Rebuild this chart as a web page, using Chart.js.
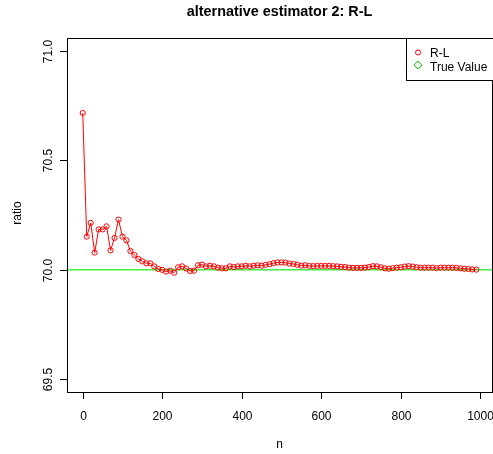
<!DOCTYPE html>
<html>
<head>
<meta charset="utf-8">
<script src="https://cdn.jsdelivr.net/npm/chart.js@4.4.0/dist/chart.umd.min.js"></script>
<style>
  html, body { margin: 0; padding: 0; background: #fff; overflow: hidden; }
  #wrap { width: 493px; height: 454px; overflow: hidden; position: relative; }
  #wrap canvas { position: absolute; left: 0; top: 0; }
</style>
</head>
<body>
<div id="wrap"><canvas id="chart" width="497" height="454"></canvas></div>
<script>
// n = 0, 10, ..., 990
const nValues = [
  0, 10, 20, 30, 40, 50, 60, 70, 80, 90,
  100, 110, 120, 130, 140, 150, 160, 170, 180, 190,
  200, 210, 220, 230, 240, 250, 260, 270, 280, 290,
  300, 310, 320, 330, 340, 350, 360, 370, 380, 390,
  400, 410, 420, 430, 440, 450, 460, 470, 480, 490,
  500, 510, 520, 530, 540, 550, 560, 570, 580, 590,
  600, 610, 620, 630, 640, 650, 660, 670, 680, 690,
  700, 710, 720, 730, 740, 750, 760, 770, 780, 790,
  800, 810, 820, 830, 840, 850, 860, 870, 880, 890,
  900, 910, 920, 930, 940, 950, 960, 970, 980, 990
];
const ratioRL = [
  70.717, 70.151, 70.214, 70.078, 70.184, 70.184, 70.198, 70.088, 70.145, 70.229,
  70.151, 70.134, 70.085, 70.067, 70.049, 70.038, 70.029, 70.029, 70.015, 70.003,
  69.999, 69.991, 69.995, 69.986, 70.011, 70.015, 70.005, 69.994, 69.995, 70.020,
  70.023, 70.015, 70.018, 70.015, 70.009, 70.006, 70.006, 70.015, 70.012, 70.015,
  70.015, 70.018, 70.015, 70.018, 70.020, 70.018, 70.022, 70.025, 70.030, 70.033,
  70.033, 70.032, 70.028, 70.026, 70.022, 70.018, 70.020, 70.017, 70.016, 70.017,
  70.017, 70.017, 70.017, 70.016, 70.015, 70.013, 70.012, 70.009, 70.008, 70.008,
  70.008, 70.009, 70.012, 70.016, 70.015, 70.011, 70.006, 70.004, 70.007, 70.009,
  70.011, 70.014, 70.016, 70.014, 70.011, 70.009, 70.009, 70.009, 70.009, 70.007,
  70.009, 70.009, 70.009, 70.009, 70.008, 70.006, 70.004, 70.003, 70.001, 70.000
];
const trueValue = 70;
const xTicks = [0, 200, 400, 600, 800, 1000];
const yTicks = [69.5, 70.0, 70.5, 71.0];
const seriesLabels = ['R-L', 'True Value'];
const chartTitle = 'alternative estimator 2: R-L';

const FONT = '"Liberation Sans", Arial, sans-serif';

// R-style box, title, ticks, labels and legend
const rStyle = {
  id: 'rStyle',
  afterDraw(chart) {
    const ctx = chart.ctx;
    const area = chart.chartArea;
    const xs = chart.scales.x, ys = chart.scales.y;
    const midX = (area.left + area.right) / 2;
    ctx.save();
    ctx.strokeStyle = '#000';
    ctx.lineWidth = 1;
    ctx.strokeRect(Math.round(area.left) + 0.5, Math.round(area.top) + 0.5,
      Math.round(area.right - area.left), Math.round(area.bottom - area.top));

    ctx.fillStyle = '#000';
    // title, centred over the plot region like R does
    ctx.font = 'bold 14.4px ' + FONT;
    ctx.textAlign = 'center';
    ctx.textBaseline = 'alphabetic';
    ctx.fillText(chartTitle, midX, 16);

    ctx.font = '12px ' + FONT;
    // x ticks
    xTicks.forEach(v => {
      const px = Math.round(xs.getPixelForValue(v)) + 0.5;
      ctx.beginPath();
      ctx.moveTo(px, area.bottom);
      ctx.lineTo(px, area.bottom + 7);
      ctx.stroke();
      ctx.fillText(String(v), px, 420);
    });
    // y ticks
    yTicks.forEach(v => {
      const py = Math.round(ys.getPixelForValue(v)) + 0.5;
      ctx.beginPath();
      ctx.moveTo(area.left, py);
      ctx.lineTo(area.left - 7, py);
      ctx.stroke();
      ctx.save();
      ctx.translate(52, py);
      ctx.rotate(-Math.PI / 2);
      ctx.fillText(v.toFixed(1), 0, 0);
      ctx.restore();
    });
    // axis titles
    ctx.fillText('n', midX, 448);
    ctx.save();
    ctx.translate(21, 213);
    ctx.rotate(-Math.PI / 2);
    ctx.fillText('ratio', 0, 0);
    ctx.restore();

    // legend
    const lx = 406.5, ly = 38.5;
    ctx.fillStyle = '#fff';
    ctx.fillRect(lx, ly, 120, 42);
    ctx.strokeRect(lx, ly, 120, 42);
    ctx.textAlign = 'left';
    ctx.fillStyle = '#000';
    ctx.fillText(seriesLabels[0], 430, 57);
    ctx.fillText(seriesLabels[1], 430, 70.5);
    ctx.strokeStyle = '#ff0000';
    ctx.beginPath();
    ctx.arc(418, 52.5, 2.5, 0, Math.PI * 2);
    ctx.stroke();
    ctx.strokeStyle = '#00dd00';
    ctx.beginPath();
    ctx.moveTo(418, 61);
    ctx.lineTo(422, 65);
    ctx.lineTo(418, 69);
    ctx.lineTo(414, 65);
    ctx.closePath();
    ctx.stroke();
    ctx.restore();
  }
};

const xMin = -39.6, xMax = 1029.6;

new Chart(document.getElementById('chart'), {
  type: 'line',
  data: {
    datasets: [
      {
        label: seriesLabels[0],
        data: nValues.map((n, i) => ({ x: n, y: ratioRL[i] })),
        borderColor: '#ff0000',
        borderWidth: 1,
        pointRadius: 2.6,
        pointBorderWidth: 1,
        pointBorderColor: '#ff0000',
        pointBackgroundColor: 'rgba(0,0,0,0)',
        tension: 0,
        order: 1
      },
      {
        label: seriesLabels[1],
        data: [{ x: xMin, y: trueValue }, { x: xMax, y: trueValue }],
        borderColor: '#44ee44',
        borderWidth: 1.5,
        pointRadius: 0,
        order: 2
      }
    ]
  },
  options: {
    responsive: false,
    animation: false,
    events: [],
    layout: { padding: { top: 38, right: 2, left: 0, bottom: 0 } },
    plugins: {
      legend: { display: false },
      tooltip: { enabled: false },
      title: { display: false }
    },
    scales: {
      x: {
        type: 'linear',
        min: xMin,
        max: xMax,
        grid: { display: false },
        border: { display: false },
        ticks: { display: false },
        afterFit(scale) { scale.height = 62; }
      },
      y: {
        type: 'linear',
        min: 69.4400,
        max: 71.0600,
        grid: { display: false },
        border: { display: false },
        ticks: { display: false },
        afterFit(scale) { scale.width = 67; }
      }
    }
  },
  plugins: [rStyle]
});
</script>
</body>
</html>
